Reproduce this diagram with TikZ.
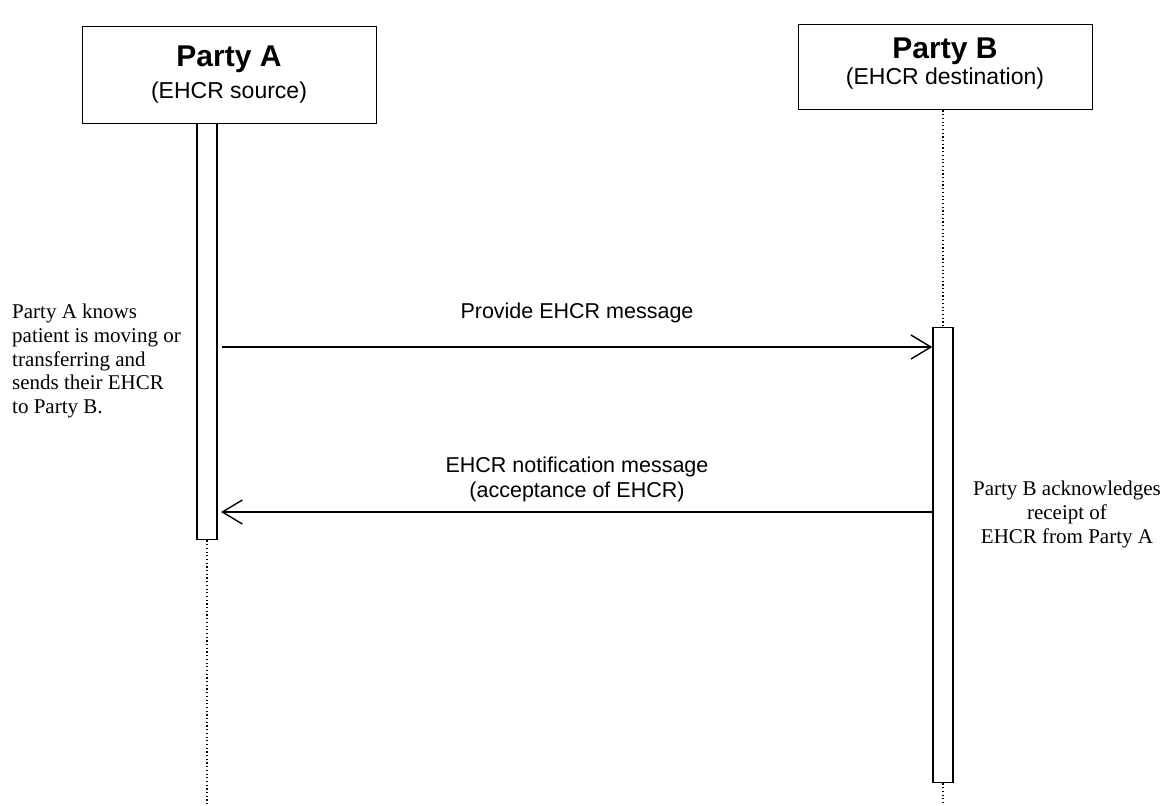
\documentclass[tikz,border=0pt]{standalone}
\usepackage{fontspec}
\setmainfont{Liberation Serif}
\newfontfamily\arialfont{Liberation Sans}
\usetikzlibrary{arrows.meta}

\begin{document}
\begin{tikzpicture}[x=1pt,y=-1pt,
  partybox/.style={draw, line width=1.4pt, minimum width=294pt,
    inner sep=0pt, anchor=north west},
  partyname/.style={anchor=base, inner sep=0pt, font=\arialfont\bfseries\fontsize{30}{30}\selectfont},
  partyrole/.style={anchor=base, inner sep=0pt, font=\arialfont\fontsize{23}{23}\selectfont},
  actbar/.style={draw, line width=1.4pt, minimum width=20pt, inner sep=0pt, anchor=north},
  life/.style={line width=1.3pt, dash pattern=on 1.2pt off 2.5pt},
  msg/.style={line width=1.4pt, -{Straight Barb[length=20pt,width=24pt,line width=1.4pt]}},
  msglabel/.style={anchor=base, inner sep=0pt, font=\arialfont\fontsize{21.5}{21.5}\selectfont},
  note/.style={inner sep=0pt, font=\fontsize{21}{23.7}\selectfont}
]
\useasboundingbox (0,0) rectangle (1163,806);

% participants
\node[partybox, minimum height=97pt] (pa) at (82,26) {};
\node[partyname] (pa-name) at (229,66.5) {Party A};
\node[partyrole] (pa-role) at (229,98) {(EHCR source)};

\node[partybox, minimum height=85pt] (pb) at (798,24) {};
\node[partyname] (pb-name) at (945,58) {Party B};
\node[partyrole] (pb-role) at (945,84) {(EHCR destination)};

% activation bars
\node[actbar, minimum height=416pt] (ba) at (207,123) {};
\node[actbar, minimum height=455pt] (bb) at (943,327) {};

% lifelines
\coordinate (ea) at (207,806);
\coordinate (eb) at (943,806);
\draw[life] (ba.south) -- (ea);
\draw[life] (pb.south -| bb.north) -- (bb.north);
\draw[life] (bb.south) -- (eb);

% messages
\coordinate (m1) at (222,347);
\coordinate (m2) at (221,512);
\draw[msg] (m1) -- (bb.west |- m1);
\draw[msg] (bb.west |- m2) -- (m2);

\node[msglabel] (l1) at (577,318) {Provide EHCR message};
\node[msglabel] (l2a) at (577,472) {EHCR notification message};
\node[msglabel] (l2b) at (577,497) {(acceptance of EHCR)};

% side notes
\node[note, anchor=north west, align=left] (na) at (12,304)
  {Party A knows\\patient is moving or\\transferring and\\sends their EHCR\\to Party B.};
\node[note, anchor=north, align=center] (nb) at (1067,481)
  {Party B acknowledges\\receipt of\\EHCR from Party A};
\end{tikzpicture}
\end{document}
